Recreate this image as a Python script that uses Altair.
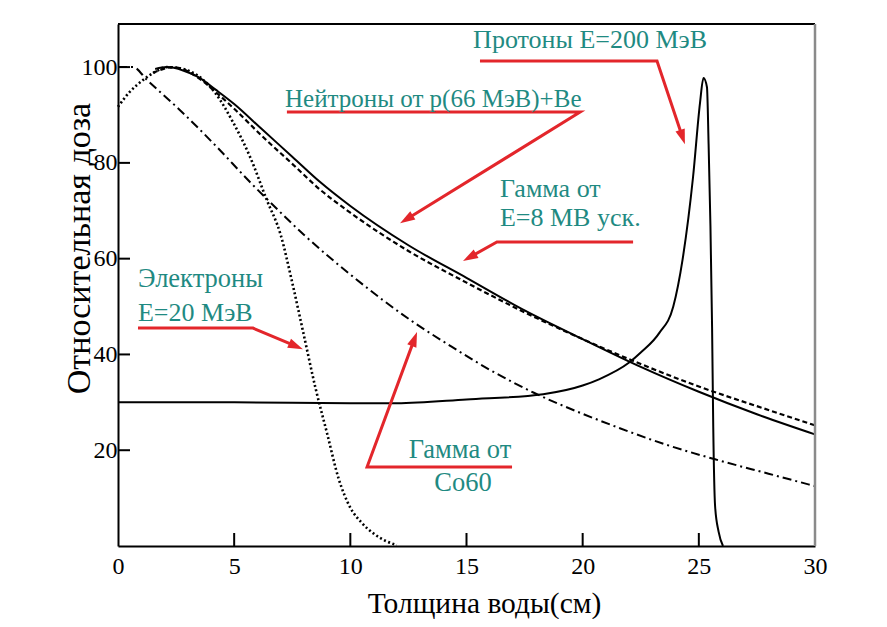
import math
import altair as alt
import pandas as pd

# ---------------- data ----------------
x_ticks = [0, 5, 10, 15, 20, 25, 30]
y_ticks = [20, 40, 60, 80, 100]

neutron_x = [1.6, 2.1, 2.8, 3.5, 4.2, 5.0, 6.2, 7.5, 8.7, 10.0, 12.5, 15.0, 17.5, 20.0, 22.5, 25.0, 27.5, 30.0]
neutron_y = [99.6, 100.0, 99.3, 97.8, 95.3, 92.3, 87.0, 81.3, 76.0, 71.0, 62.8, 56.0, 49.2, 43.2, 37.4, 32.2, 27.5, 23.3]

gamma8_x = [1.5, 2.4, 3.5, 4.2, 5.0, 6.2, 7.5, 8.7, 10.0, 12.5, 15.0, 17.5, 20.0, 22.5, 25.0, 27.5, 30.0]
gamma8_y = [98.8, 100.0, 97.6, 94.8, 91.3, 85.6, 79.8, 74.4, 69.6, 61.6, 55.0, 48.8, 43.2, 38.0, 33.3, 29.2, 25.2]

co60_x = [0.0, 0.65, 1.25, 2.67, 4.26, 5.68, 6.4, 8.0, 10.1, 12.7, 14.3, 16.0, 17.9, 20.0, 21.6, 23.5, 25.7, 28.0, 30.0]
co60_y = [100.0, 100.0, 97.3, 91.0, 83.3, 76.0, 72.5, 65.0, 56.3, 46.8, 41.8, 36.8, 32.0, 27.6, 24.6, 21.3, 18.1, 15.1, 12.5]

electron_x = [0.0, 0.5, 1.08, 1.6, 2.1, 2.8, 3.5, 4.2, 4.95, 5.68, 6.4, 7.0, 7.5, 8.0, 8.5, 9.0, 9.5, 10.0, 10.5, 11.0, 11.5, 12.0]
electron_y = [91.7, 94.8, 97.3, 99.0, 100.0, 99.6, 98.0, 94.5, 88.5, 81.3, 72.3, 65.0, 55.0, 44.0, 33.0, 23.5, 14.0, 8.0, 4.8, 2.6, 1.1, 0.2]

proton_x = [0.0, 5.0, 10.0, 12.0, 15.0, 18.3, 20.0, 20.7, 22.0, 22.5, 23.3, 23.9, 24.3, 24.75, 25.05, 25.2,
            25.35, 25.42, 25.5, 25.57, 25.62, 25.7, 25.85, 26.04]
proton_y = [30.0, 30.0, 29.8, 29.8, 30.6, 31.7, 33.5, 34.8, 38.3, 40.4, 44.5, 50.0, 59.8, 77.0, 92.5, 97.7,
            95.8, 84.0, 66.7, 45.8, 25.0, 8.3, 3.0, 0.0]

# annotation labels
label_left_text = ["Нейтроны от p(66 МэВ)+Be", "Гамма от", "E=8 МВ уск.", "Электроны", "E=20 МэВ"]
label_left_x = [7.19, 16.44, 16.44, 0.86, 0.86]
label_left_y = [93.3, 74.5, 68.5, 55.7, 48.6]
label_left_size = [25, 26, 26, 26.5, 26]

label_center_text = ["Протоны E=200 МэВ", "Гамма от", "Co60"]
label_center_x = [20.32, 14.72, 14.85]
label_center_y = [105.6, 20.0, 13.2]
label_center_size = [26, 26.5, 26.5]

# red pointer polylines (last point = arrow tip)
arrow_protons = [(15.58, 101.25), (23.20, 101.25), (24.40, 83.9)]
arrow_neutrons = [(7.27, 90.6), (19.89, 90.6), (12.14, 67.4)]
arrow_gamma8 = [(22.17, 63.5), (16.31, 63.5), (14.85, 59.5)]
arrow_electrons = [(0.86, 45.5), (5.81, 45.5), (7.96, 41.1)]
arrow_co60 = [(16.96, 16.5), (10.72, 16.5), (12.87, 44.7)]

# ---------------- layout / style ----------------
W, H = 697, 522
X_MAX, Y_MAX = 30, 109
SERIF = "Liberation Serif"
TEAL = "#1f8a82"
RED = "#e3262b"
HEAD_R = 7.5  # arrow head half length in px

xs = alt.Scale(domain=[0, X_MAX], nice=False, zero=False)
ys = alt.Scale(domain=[0, Y_MAX], nice=False, zero=False)

x_axis = alt.Axis(values=x_ticks, tickSize=0, grid=False, domainColor="black", domainWidth=2,
                  labelFont=SERIF, labelFontSize=24, labelColor="black", labelPadding=8, labelFlush=False,
                  title="Толщина воды(см)", titleFont=SERIF, titleFontSize=29.5, titleFontWeight="normal",
                  titleColor="black", titleX=366, titleY=57, titleBaseline="middle", titleAlign="center")
y_axis = alt.Axis(values=y_ticks, tickSize=0, grid=False, domainColor="black", domainWidth=2,
                  labelFont=SERIF, labelFontSize=24, labelColor="black", labelPadding=1, labelFlush=False,
                  title="Относительная доза", titleFont=SERIF, titleFontSize=34, titleFontWeight="normal",
                  titleColor="black", titleAngle=270, titleX=-39, titleY=224, titleBaseline="middle",
                  titleAlign="center")


def X():
    return alt.X("x:Q", scale=xs, axis=x_axis)


def Y():
    return alt.Y("y:Q", scale=ys, axis=y_axis)


def curve(xv, yv, **kw):
    return alt.Chart(pd.DataFrame({"x": xv, "y": yv})).mark_line(
        color="black", interpolate="monotone", **kw).encode(x=X(), y=Y())


neutron = curve(neutron_x, neutron_y, strokeWidth=2)
gamma8 = curve(gamma8_x, gamma8_y, strokeWidth=2.2, strokeDash=[5, 3])
co60 = curve(co60_x, co60_y, strokeWidth=2, strokeDash=[9, 4, 2, 4])
electrons = curve(electron_x, electron_y, strokeWidth=2.6, strokeDash=[2, 2.5])
protons = curve(proton_x, proton_y, strokeWidth=2)

# inward tick marks
xt = alt.Chart(pd.DataFrame({"x": x_ticks[1:-1]})).mark_rule(color="black", strokeWidth=2).encode(
    x=X(), y=alt.value(H), y2=alt.value(H - 13))
yt = alt.Chart(pd.DataFrame({"y": y_ticks})).mark_rule(color="black", strokeWidth=2).encode(
    y=Y(), x=alt.value(0), x2=alt.value(12))

top_border = alt.Chart(pd.DataFrame({"a": [0]})).mark_rule(color="black", strokeWidth=2).encode(
    x=alt.value(0), x2=alt.value(W), y=alt.value(0))
right_border = alt.Chart(pd.DataFrame({"a": [0]})).mark_rule(color="#8a8a8a", strokeWidth=2.5).encode(
    x=alt.value(W), y=alt.value(0), y2=alt.value(H))

# labels
left_labels = alt.Chart(pd.DataFrame({"x": label_left_x, "y": label_left_y, "t": label_left_text,
                                      "s": label_left_size})).mark_text(
    align="left", baseline="middle", font=SERIF, color=TEAL).encode(
    x=X(), y=Y(), text="t:N", size=alt.Size("s:Q", scale=None))
center_labels = alt.Chart(pd.DataFrame({"x": label_center_x, "y": label_center_y, "t": label_center_text,
                                        "s": label_center_size})).mark_text(
    align="center", baseline="middle", font=SERIF, color=TEAL).encode(
    x=X(), y=Y(), text="t:N", size=alt.Size("s:Q", scale=None))

# arrows
arrows = [arrow_protons, arrow_neutrons, arrow_gamma8, arrow_electrons, arrow_co60]
rows, heads = [], []
pxu, pyu = W / X_MAX, H / Y_MAX
for gi, pts in enumerate(arrows):
    (x0, y0), (x1, y1) = pts[-2], pts[-1]
    dx, dy = (x1 - x0) * pxu, -(y1 - y0) * pyu  # screen coords (y down)
    L = math.hypot(dx, dy)
    ux, uy = dx / L, dy / L
    ang = math.degrees(math.atan2(ux, -uy)) % 360
    cx = x1 - ux * HEAD_R / pxu
    cy = y1 + uy * HEAD_R / pyu
    heads.append({"x": cx, "y": cy, "a": ang})
    for oi, (px, py) in enumerate(pts):
        if oi == len(pts) - 1:
            px, py = x1 - ux * HEAD_R * 1.2 / pxu, y1 + uy * HEAD_R * 1.2 / pyu
        rows.append({"g": gi, "o": oi, "x": px, "y": py})

arrow_lines = alt.Chart(pd.DataFrame(rows)).mark_line(color=RED, strokeWidth=3).encode(
    x=X(), y=Y(), detail="g:N", order="o:Q")
arrow_heads = alt.Chart(pd.DataFrame(heads)).mark_point(
    shape="M0,-1L0.65,1L-0.65,1Z", filled=True, size=(2 * HEAD_R) ** 2, color=RED, opacity=1,
    strokeWidth=0).encode(x=X(), y=Y(), angle=alt.Angle("a:Q", scale=None))

chart = alt.layer(
    neutron, gamma8, co60, electrons, protons, xt, yt, top_border, right_border,
    arrow_lines, arrow_heads, left_labels, center_labels
).properties(
    width=W, height=H,
    autosize=alt.AutoSizeParams(type="none"),
    padding={"left": 110, "top": 16, "right": 64, "bottom": 73},
    background="white",
).configure_view(stroke=None)

chart.save("out.html", embed_options={"renderer": "svg", "actions": False})
